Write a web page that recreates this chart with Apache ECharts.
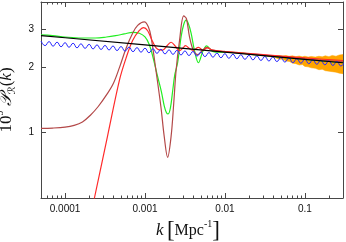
<!DOCTYPE html>
<html><head><meta charset="utf-8">
<script src="https://cdn.jsdelivr.net/npm/echarts@6/dist/echarts.min.js"></script>
<style>html,body{margin:0;padding:0;background:#fff}#c{width:346px;height:242px}</style>
</head><body><div id="c"></div>
<script>
// ---- tick definitions ----
const xMajor = [1e-4, 1e-3, 1e-2, 1e-1];
const xMajorLabels = ['0.0001', '0.001', '0.01', '0.1'];
const xMinor = [6e-5,7e-5,8e-5,9e-5,2e-4,3e-4,4e-4,5e-4,6e-4,7e-4,8e-4,9e-4,2e-3,3e-3,4e-3,5e-3,6e-3,7e-3,8e-3,9e-3,0.02,0.03,0.04,0.05,0.06,0.07,0.08,0.09,0.2];
const yMajor = [1, 2, 3];
const yMajorLabels = ['1', '2', '3'];

// ---- data ----
// orange uncertainty band
const kBand  = [0.022,0.026,0.03,0.034,0.038,0.043,0.048,0.053,0.058,0.064,0.07,0.077,0.085,0.093,0.1,0.11,0.12,0.135,0.15,0.165,0.18,0.2,0.22,0.245,0.27,0.3];
const pBandLo = [2.287,2.275,2.26,2.25,2.235,2.215,2.18,2.18,2.14,2.13,2.09,2.08,2.05,2.06,2.02,2.01,1.99,1.98,1.95,1.96,1.93,1.92,1.91,1.90,1.88,1.87];
const pBandHi = [2.293,2.285,2.275,2.268,2.265,2.262,2.265,2.255,2.265,2.25,2.26,2.24,2.255,2.235,2.25,2.23,2.245,2.23,2.25,2.235,2.26,2.24,2.27,2.25,2.28,2.29];

// blue oscillating spectrum
const kBlue = [5.01e-5,5.62e-5,6.31e-5,7.08e-5,7.94e-5,8.91e-5,1.00e-4,1.12e-4,1.26e-4,1.41e-4,1.58e-4,1.78e-4,2.00e-4,2.24e-4,2.51e-4,2.82e-4,3.16e-4,3.55e-4,3.98e-4,4.47e-4,
  5.01e-4,5.62e-4,6.31e-4,7.08e-4,7.94e-4,8.91e-4,1.00e-3,1.12e-3,1.26e-3,1.41e-3,1.58e-3,1.78e-3,2.00e-3,2.24e-3,2.51e-3,2.82e-3,3.16e-3,3.55e-3,3.98e-3,4.47e-3,
  5.01e-3,5.62e-3,6.31e-3,7.08e-3,7.94e-3,8.91e-3,0.0100,0.0112,0.0126,0.0141,0.0158,0.0178,0.0200,0.0224,0.0251,0.0282,0.0316,0.0355,0.0398,0.0447,
  0.0501,0.0562,0.0631,0.0708,0.0794,0.0891,0.100,0.112,0.126,0.141,0.158,0.178,0.200,0.224,0.251,0.282,0.316];
const pBlue = [2.643,2.517,2.628,2.503,2.612,2.488,2.598,2.474,2.582,2.459,2.567,2.446,2.553,2.431,2.538,2.417,2.523,2.404,2.508,2.389,
  2.494,2.375,2.479,2.361,2.465,2.348,2.450,2.334,2.436,2.320,2.422,2.306,2.407,2.294,2.394,2.280,2.380,2.266,2.367,2.253,
  2.352,2.240,2.339,2.227,2.326,2.214,2.312,2.201,2.298,2.190,2.285,2.177,2.271,2.164,2.258,2.151,2.245,2.138,2.232,2.126,
  2.219,2.114,2.207,2.101,2.193,2.089,2.181,2.078,2.168,2.065,2.156,2.053,2.144,2.040,2.130,2.028,2.118];

// black power law
const kBlack = [5e-5, 1e-4, 1e-3, 1e-2, 0.1, 0.3];
const pBlack = [2.80, 2.737, 2.536, 2.350, 2.177, 2.10];

// green
const kGreen = [5e-5,7e-5,1e-4,1.6e-4,2.4e-4,3.3e-4,4.3e-4,5.5e-4,7e-4,8.5e-4,1.0e-3,1.13e-3,1.25e-3,1.44e-3,1.6e-3,1.74e-3,1.85e-3,1.95e-3,2.08e-3,2.22e-3,2.36e-3,2.56e-3,2.83e-3,3.05e-3,3.26e-3,3.5e-3,3.78e-3,4.15e-3,4.66e-3,5.29e-3,5.9e-3,7.0e-3,8.5e-3,0.01,0.03,0.1,0.3];
const pGreen = [2.82,2.80,2.76,2.73,2.73,2.76,2.80,2.85,2.90,2.87,2.76,2.55,2.25,1.81,1.55,1.33,1.24,1.22,1.30,1.56,1.85,2.10,2.77,3.15,3.30,3.17,2.87,2.40,2.10,2.37,2.51,2.37,2.35,2.35,2.267,2.178,2.10];

// brown (dark red)
const kBrown = [5e-5,7e-5,1e-4,1.3e-4,1.65e-4,2.06e-4,2.6e-4,3.33e-4,4.03e-4,4.8e-4,5.8e-4,7e-4,8.1e-4,9.8e-4,1.1e-3,1.19e-3,1.37e-3,1.58e-3,1.74e-3,1.92e-3,2.12e-3,2.29e-3,2.45e-3,2.71e-3,3.05e-3,3.3e-3,3.6e-3,4.02e-3,4.6e-3,5.29e-3,5.9e-3,7e-3,0.01,0.03,0.1,0.3];
const pBrown = [1.047,1.05,1.06,1.08,1.12,1.20,1.32,1.50,1.69,2.0,2.45,2.87,3.12,3.24,3.08,2.77,1.94,1.32,0.96,0.77,0.96,1.37,1.94,2.68,3.45,3.35,2.77,2.40,2.29,2.40,2.47,2.40,2.36,2.28,2.19,2.12];

// red
const kRed = [1.5e-4,2.33e-4,3.4e-4,4.8e-4,5.78e-4,7e-4,8.45e-4,9.6e-4,1.08e-3,1.25e-3,1.44e-3,1.65e-3,1.9e-3,2.12e-3,2.4e-3,2.7e-3,3.0e-3,3.21e-3,3.6e-3,3.98e-3,4.67e-3,5.3e-3,6e-3,7e-3,0.01,0.03,0.1,0.3];
const pRed = [0.233,0.5,0.964,1.75,2.2,2.66,2.95,3.05,2.95,2.62,2.42,2.40,2.52,2.61,2.50,2.39,2.46,2.52,2.44,2.40,2.47,2.40,2.46,2.40,2.37,2.29,2.21,2.15];

const zip = (a, b) => a.map((v, i) => [v, b[i]]);

const frame = '#474747';
const tickFont = {fontFamily: 'Liberation Sans', fontSize: 10, color: '#111'};
function labelFor(v, vals, labs) {
  let best = 0, bd = Infinity;
  vals.forEach((t, i) => { const d = Math.abs(Math.log10(v) - Math.log10(t)); if (d < bd) { bd = d; best = i; } });
  return labs[best];
}
function xAx(pos, ticks, len, withLabels, extra) {
  return Object.assign({
    type: 'log', logBase: 10, min: 5e-5, max: 0.3, position: pos,
    axisLine: {show: true, lineStyle: {color: frame, width: 1}},
    axisTick: {show: true, inside: true, length: len, customValues: ticks, lineStyle: {color: frame, width: 1}},
    axisLabel: withLabels ? Object.assign({show: true, customValues: xMajor, margin: 6,
      formatter: v => labelFor(v, xMajor, xMajorLabels)}, tickFont) : {show: false},
    splitLine: {show: false}, minorTick: {show: false}
  }, extra || {});
}
function yAx(pos, withLabels, extra) {
  return Object.assign({
    type: 'log', logBase: 10, min: 0.5, max: 4, position: pos,
    axisLine: {show: true, lineStyle: {color: frame, width: 1}},
    axisTick: {show: true, inside: true, length: 5, customValues: yMajor, lineStyle: {color: frame, width: 1}},
    axisLabel: withLabels ? Object.assign({show: true, customValues: yMajor, margin: 7,
      formatter: v => labelFor(v, yMajor, yMajorLabels)}, tickFont) : {show: false},
    splitLine: {show: false}, minorTick: {show: false}
  }, extra || {});
}

const serif = 'Liberation Serif';
const option = {
  animation: false,
  backgroundColor: '#fff',
  grid: {left: 41, right: 3, top: 2, bottom: 44, outerBoundsMode: 'none', containLabel: false},
  xAxis: [
    xAx('bottom', xMajor, 5, true, {
      name: '{i|k} {b|[}{n|Mpc}{s|-1}{b|]}', nameLocation: 'middle', nameGap: 16,
      nameTextStyle: {padding: [0, 8, 0, 0], rich: {
        i: {fontFamily: serif, fontStyle: 'italic', fontSize: 17, color: '#111', lineHeight: 24},
        n: {fontFamily: serif, fontSize: 16, color: '#111', lineHeight: 24},
        b: {fontFamily: serif, fontSize: 23, color: '#111', lineHeight: 24},
        s: {fontFamily: serif, fontSize: 10, color: '#111', verticalAlign: 'top', lineHeight: 14}
      }}
    }),
    xAx('bottom', xMinor, 2.5, false, {axisLine: {show: false}}),
    xAx('top', xMajor, 5, false),
    xAx('top', xMinor, 2.5, false, {axisLine: {show: false}})
  ],
  yAxis: [
    yAx('left', true, {
      name: '{n|10}{s|9}{n| }{p|𝒫}{r|ℛ}{n|(}{i|k}{n|)}', nameLocation: 'middle', nameGap: 20, nameRotate: 90,
      nameTextStyle: {rich: {
        n: {fontFamily: serif, fontSize: 17, color: '#111', lineHeight: 22},
        i: {fontFamily: serif, fontStyle: 'italic', fontSize: 17, color: '#111', lineHeight: 22},
        p: {fontFamily: 'DejaVu Serif', fontStyle: 'italic', fontSize: 17, color: '#111', lineHeight: 22},
        s: {fontFamily: serif, fontSize: 10, color: '#111', verticalAlign: 'top', lineHeight: 12},
        r: {fontFamily: 'DejaVu Sans', fontSize: 10, color: '#111', verticalAlign: 'bottom', lineHeight: 12}
      }}
    }),
    yAx('right', false)
  ],
  series: [
    {type: 'custom', name: 'band', coordinateSystem: 'cartesian2d', clip: true, silent: true,
      data: zip(kBand, pBandHi),
      renderItem: (params, api) => {
        if (params.dataIndex !== 0) return null;
        const upper = kBand.map((k, i) => api.coord([k, pBandHi[i]]));
        const lower = kBand.map((k, i) => api.coord([k, pBandLo[i]])).reverse();
        return {type: 'polygon', shape: {points: upper.concat(lower)},
          style: {fill: '#ffa500', stroke: '#ffa500', lineWidth: 0.5}};
      }},
    {type: 'line', name: 'green', data: zip(kGreen, pGreen), showSymbol: false, smooth: 0.35,
      lineStyle: {color: '#22ee22', width: 1.2}},
    {type: 'line', name: 'brown', data: zip(kBrown, pBrown), showSymbol: false, smooth: 0.35,
      lineStyle: {color: '#b34848', width: 1.2}},
    {type: 'line', name: 'red', data: zip(kRed, pRed), showSymbol: false, smooth: 0.35,
      lineStyle: {color: '#ff2a2a', width: 1.2}},
    {type: 'line', name: 'blue', data: zip(kBlue, pBlue), showSymbol: false, smooth: 0.5,
      lineStyle: {color: '#2a2aff', width: 1}},
    {type: 'line', name: 'black', data: zip(kBlack, pBlack), showSymbol: false,
      lineStyle: {color: '#000', width: 1.2}}
  ]
};
const chart = echarts.init(document.getElementById('c'), null, {renderer: 'canvas'});
chart.setOption(option);
</script>
</body></html>
